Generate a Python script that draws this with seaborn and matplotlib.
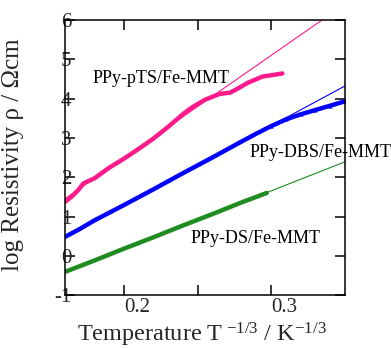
import numpy as np
import pandas as pd
import matplotlib
matplotlib.use("Agg")
import matplotlib.pyplot as plt
import seaborn as sns

# ---- data ----
pts_x = [0.160, 0.165, 0.169, 0.1725, 0.180, 0.190, 0.200, 0.210, 0.220, 0.230,
         0.240, 0.246, 0.255, 0.265, 0.272, 0.278, 0.284, 0.294, 0.3076]
pts_y = [1.37, 1.52, 1.67, 1.84, 1.97, 2.24, 2.47, 2.72, 2.98, 3.28,
         3.60, 3.77, 3.97, 4.12, 4.15, 4.27, 4.40, 4.56, 4.64]

dbs_x = [0.160, 0.170, 0.180, 0.200, 0.220, 0.240, 0.260, 0.280, 0.290, 0.300,
         0.310, 0.320, 0.330, 0.340, 0.350]
dbs_y = [0.48, 0.68, 0.90, 1.29, 1.69, 2.10, 2.50, 2.91, 3.11, 3.30,
         3.47, 3.60, 3.71, 3.82, 3.93]

ds_x = [0.160, 0.180, 0.200, 0.220, 0.240, 0.260, 0.280, 0.297]
ds_y = [-0.41, -0.12, 0.18, 0.47, 0.77, 1.06, 1.36, 1.60]

pts_fit_x = [0.160, 0.3345]
pts_fit_y = [1.45, 6.00]
dbs_fit_x = [0.160, 0.350]
dbs_fit_y = [0.48, 4.32]
ds_fit_x = [0.160, 0.350]
ds_fit_y = [-0.41, 2.39]

labels = ["PPy-pTS/Fe-MMT", "PPy-DBS/Fe-MMT", "PPy-DS/Fe-MMT"]
label_pos = [(0.179, 4.52), (0.285, 2.64), (0.245, 0.43)]
colors = ["#ff1a8c", "#0000ff", "#1e8c1e"]

xticks_major = [0.2, 0.3]
xtick_labels = ["0.2", "0.3"]
yticks = [-1, 0, 1, 2, 3, 4, 5, 6]
ytick_labels = ["-1", "0", "1", "2", "3", "4", "5", "6"]

# ---- style ----
sns.set_style("ticks")
plt.rcParams["font.family"] = ["Liberation Serif", "DejaVu Serif"]
plt.rcParams["mathtext.fontset"] = "custom"
plt.rcParams["mathtext.rm"] = "Liberation Serif"
plt.rcParams["mathtext.it"] = "Liberation Serif:italic"
plt.rcParams["axes.unicode_minus"] = False

fig = plt.figure(figsize=(3.91, 3.48), dpi=100)
ax = fig.add_axes([0.166, 0.152, 0.716, 0.7905])

data_sets = [(pts_x, pts_y), (dbs_x, dbs_y), (ds_x, ds_y)]
fit_sets = [(pts_fit_x, pts_fit_y), (dbs_fit_x, dbs_fit_y), (ds_fit_x, ds_fit_y)]

for (fx, fy), c in zip(fit_sets, colors):
    sns.lineplot(x=fx, y=fy, ax=ax, color=c, lw=0.8, sort=False, estimator=None)

for (dx, dy), c in zip(data_sets, colors):
    sns.lineplot(x=dx, y=dy, ax=ax, color=c, lw=3.2, sort=False, estimator=None,
                 solid_capstyle="round")

# triangle markers on DBS tail
tail = pd.DataFrame({"x": dbs_x, "y": dbs_y})
tail = tail[tail.x >= 0.30]
sns.lineplot(data=tail, x="x", y="y", ax=ax, color=colors[1], lw=2.0,
             marker="^", markersize=3, markeredgewidth=0, sort=False, estimator=None)

for t, (tx, ty) in zip(labels, label_pos):
    ax.text(tx, ty, t, fontsize=13, ha="left", va="center", color="black")

ax.set_xlim(0.16, 0.35)
ax.set_ylim(-1, 6)
ax.set_xticks(xticks_major)
ax.set_xticklabels(xtick_labels, ha="left")
ax.set_xticks([0.25], minor=True)
ax.set_yticks(yticks)
ax.set_yticklabels(ytick_labels)

for s in ax.spines.values():
    s.set_visible(True)
    s.set_linewidth(1.1)
    s.set_color("black")

ax.tick_params(axis="both", which="both", direction="in", top=True, right=True,
               length=7, width=1.1, color="black")
ax.tick_params(axis="x", which="major", labelsize=15, pad=2)
ax.tick_params(axis="y", which="major", labelsize=15, pad=-4.5)

ax.set_xlabel("Temperature T$^{\\ \\mathrm{-1/3}}$ / K$^{\\mathrm{-1/3}}$", fontsize=17.5, labelpad=0)
ax.set_ylabel("log Resistivity \u03c1 / \u03a9cm", fontsize=18, labelpad=2)
ax.yaxis.set_label_coords(-0.145, 0.51)
ax.xaxis.set_label_coords(0.49, -0.093)

fig.savefig("out.png", dpi=100)
